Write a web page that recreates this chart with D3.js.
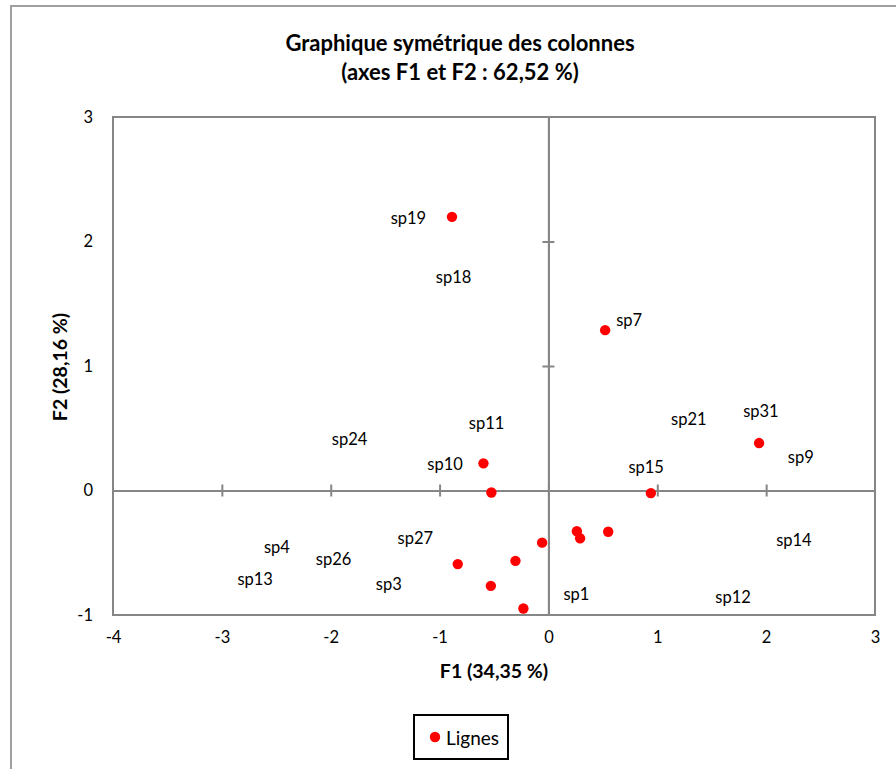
<!DOCTYPE html>
<html>
<head>
<meta charset="utf-8">
<script src="https://cdn.jsdelivr.net/npm/d3@7"></script>
<style>
  html, body { margin: 0; padding: 0; background: #fff; }
  svg { display: block; font-family: Lato, "Open Sans", sans-serif; }
</style>
</head>
<body>
<div id="chart"></div>
<script>
// ---- Data ----
const titleLines = ["Graphique symétrique des colonnes", "(axes F1 et F2 : 62,52 %)"];
const xTitle = "F1 (34,35 %)";
const yTitle = "F2 (28,16 %)";
const legendLabel = "Lignes";

const xTicks = [-4, -3, -2, -1, 0, 1, 2, 3];
const yTicks = [-1, 0, 1, 2, 3];

// Red points (series "Lignes")
const rowX = [-0.886, 0.521, 1.935, -0.597, -0.524, 0.941, 0.261, 0.291, 0.549, -0.058, -0.303, -0.833, -0.529, -0.230];
const rowY = [2.198, 1.288, 0.381, 0.218, -0.016, -0.021, -0.327, -0.384, -0.331, -0.419, -0.565, -0.591, -0.766, -0.948];

// Column labels (text only)
const colNames = ["sp19", "sp18", "sp7", "sp11", "sp10", "sp15", "sp21", "sp31", "sp9", "sp14", "sp12", "sp24", "sp27", "sp4", "sp26", "sp13", "sp3", "sp1"];
const colX = [-1.286, -0.871, 0.742, -0.568, -0.949, 0.898, 1.290, 1.952, 2.318, 2.255, 1.696, -1.827, -1.223, -2.494, -1.974, -2.694, -1.467, 0.257];
const colY = [2.191, 1.715, 1.369, 0.546, 0.213, 0.189, 0.578, 0.637, 0.266, -0.395, -0.855, 0.417, -0.384, -0.452, -0.553, -0.710, -0.747, -0.833];

// ---- Layout ----
const W = 896, H = 769;
const plot = { left: 113, right: 875, top: 117, bottom: 615 };
const gray = "#868686";
const fmt = d => String(d); // plain hyphen minus, as in the reference

const svg = d3.select("#chart").append("svg").attr("width", W).attr("height", H);

// outer chart border (partially visible)
svg.append("path")
  .attr("d", `M11,${H + 5} L11,6 L${W + 5},6`)
  .attr("fill", "none").attr("stroke", "#a0a0a0").attr("stroke-width", 2);

const x = d3.scaleLinear().domain([-4, 3]).range([plot.left, plot.right]);
const y = d3.scaleLinear().domain([-1, 3]).range([plot.bottom, plot.top]);

// Title
const title = svg.append("text").attr("text-anchor", "middle")
  .attr("font-weight", "bold").attr("font-size", 22).attr("fill", "#000");
titleLines.forEach((t, i) => {
  title.append("tspan").attr("x", 460).attr("y", 51 + i * 29).text(t);
});

// Plot area border
svg.append("rect")
  .attr("x", plot.left).attr("y", plot.top)
  .attr("width", plot.right - plot.left).attr("height", plot.bottom - plot.top)
  .attr("fill", "none").attr("stroke", gray).attr("stroke-width", 2);

// Axis lines through the origin with cross tick marks
function crossAxis(g) {
  g.selectAll("text").remove();
  g.selectAll("path.domain").attr("stroke", gray).attr("stroke-width", 2);
  g.selectAll("line").attr("stroke", gray).attr("stroke-width", 2);
}
const innerTicksX = xTicks.filter(v => v > -4 && v < 3);
const innerTicksY = yTicks.filter(v => v > -1 && v < 3);
svg.append("g").attr("transform", `translate(0,${y(0)})`)
  .call(d3.axisBottom(x).tickValues(innerTicksX).tickSizeInner(6).tickSizeOuter(0)).call(crossAxis);
svg.append("g").attr("transform", `translate(0,${y(0)})`)
  .call(d3.axisTop(x).tickValues(innerTicksX).tickSizeInner(6).tickSizeOuter(0)).call(crossAxis);
svg.append("g").attr("transform", `translate(${x(0)},0)`)
  .call(d3.axisLeft(y).tickValues(innerTicksY).tickSizeInner(6).tickSizeOuter(0)).call(crossAxis);
svg.append("g").attr("transform", `translate(${x(0)},0)`)
  .call(d3.axisRight(y).tickValues(innerTicksY).tickSizeInner(6).tickSizeOuter(0)).call(crossAxis);

// Tick labels at the edges
function labelAxis(g) {
  g.select("path.domain").remove();
  g.selectAll("line").remove();
  g.selectAll("text").attr("font-size", 16.5).attr("fill", "#000")
    .attr("font-family", "Lato, 'Open Sans', sans-serif");
}
svg.append("g").attr("transform", `translate(0,${plot.bottom})`)
  .call(d3.axisBottom(x).tickValues(xTicks).tickSize(0).tickPadding(16).tickFormat(fmt))
  .call(labelAxis);
svg.append("g").attr("transform", `translate(${plot.left},0)`)
  .call(d3.axisLeft(y).tickValues(yTicks).tickSize(0).tickPadding(20).tickFormat(fmt))
  .call(labelAxis);

// Axis titles
svg.append("text").attr("x", 494).attr("y", 678).attr("text-anchor", "middle")
  .attr("font-weight", "bold").attr("font-size", 19.5).text(xTitle);
svg.append("text").attr("transform", `translate(67,367) rotate(-90)`).attr("text-anchor", "middle")
  .attr("font-weight", "bold").attr("font-size", 19.5).text(yTitle);

// Column labels
svg.append("g").selectAll("text").data(colNames).join("text")
  .attr("x", (d, i) => x(colX[i])).attr("y", (d, i) => y(colY[i]))
  .attr("text-anchor", "middle").attr("dominant-baseline", "central")
  .attr("font-size", 16.5).attr("fill", "#000").text(d => d);

// Red points
svg.append("g").selectAll("circle").data(rowX).join("circle")
  .attr("cx", d => x(d)).attr("cy", (d, i) => y(rowY[i]))
  .attr("r", 5.2).attr("fill", "#ff0000");

// Legend
const lg = svg.append("g");
lg.append("rect").attr("x", 414).attr("y", 715).attr("width", 94).attr("height", 44)
  .attr("fill", "#fff").attr("stroke", "#000").attr("stroke-width", 2);
lg.append("circle").attr("cx", 435).attr("cy", 737).attr("r", 5.2).attr("fill", "#ff0000");
lg.append("text").attr("x", 446).attr("y", 737).attr("dominant-baseline", "central")
  .attr("font-size", 19).attr("fill", "#000").text(legendLabel);
</script>
</body>
</html>
